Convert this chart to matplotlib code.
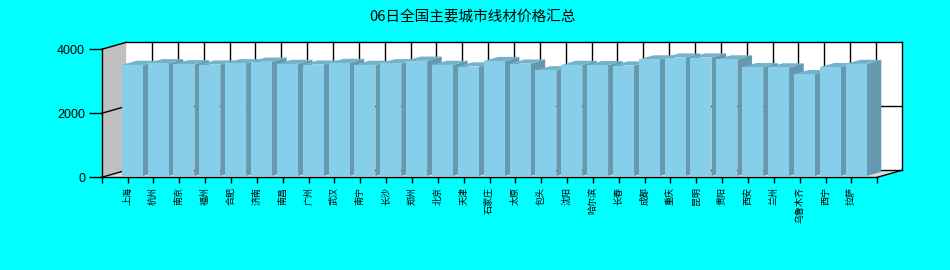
import matplotlib
matplotlib.use("Agg")
import matplotlib.pyplot as plt
from matplotlib.patches import Polygon

plt.rcParams['font.family'] = ['Liberation Sans', 'Noto Sans CJK SC', 'DejaVu Sans']

title = "06日全国主要城市线材价格汇总"
cities = ["上海", "杭州", "南京", "福州", "合肥", "济南", "南昌", "广州", "武汉", "南宁",
          "长沙", "郑州", "北京", "天津", "石家庄", "太原", "包头", "沈阳", "哈尔滨", "长春",
          "成都", "重庆", "昆明", "贵阳", "西安", "兰州", "乌鲁木齐", "西宁", "拉萨"]
prices = [3470, 3520, 3490, 3480, 3520, 3570, 3500, 3480, 3530, 3470,
          3520, 3600, 3470, 3420, 3590, 3510, 3300, 3470, 3460, 3450,
          3640, 3700, 3700, 3640, 3400, 3390, 3180, 3400, 3500]
yticks = [0, 2000, 4000]

BG = "#00FFFF"
FRONT = "#87CEEB"
SIDE = "#6699B0"
TOP = "#74B2CC"

fig = plt.figure(figsize=(9.5, 2.7), dpi=100, facecolor=BG)
ax = fig.add_axes([101.7 / 950, (270 - 177.3) / 270, 775.6 / 950, 128 / 270])
ax.set_facecolor("none")
n = len(cities)
xmax = n + 1
ymax = 4000
ax.set_xlim(0, xmax)
ax.set_ylim(0, ymax)

# pixel scales
px_x = 775.6 / xmax
px_y = 128 / ymax
# wall depth offsets in data units
DX = 24.5 / px_x
DY = 7.0 / px_y
# bars
BW = 21.0 / px_x
F0 = 0.19   # front face depth fraction
BD = 0.60   # bar depth fraction

z = 0
# floor
ax.add_patch(Polygon([(0, 0), (xmax, 0), (xmax + DX, DY), (DX, DY)], closed=True,
                     facecolor="#DCDCDC", edgecolor="none", clip_on=False, zorder=0.5))
# back wall
ax.add_patch(Polygon([(DX, DY), (xmax + DX, DY), (xmax + DX, ymax + DY), (DX, ymax + DY)],
                     closed=True, facecolor="white", edgecolor="none", clip_on=False, zorder=0.6))
# side wall
ax.add_patch(Polygon([(0, 0), (0, ymax), (DX, ymax + DY), (DX, DY)], closed=True,
                     facecolor="#C0C0C0", edgecolor="none", clip_on=False, zorder=0.7))
# grid lines on back wall
for k in range(1, xmax):
    ax.plot([k + DX, k + DX], [DY, ymax + DY], color="black", lw=1, clip_on=False, zorder=0.8)
for t in yticks:
    ax.plot([DX, xmax + DX], [t + DY, t + DY], color="black", lw=1, clip_on=False, zorder=0.8)
    ax.plot([0, DX], [t, t + DY], color="black", lw=1, clip_on=False, zorder=0.8)
ax.plot([xmax + DX, xmax + DX], [DY, ymax + DY], color="black", lw=1, clip_on=False, zorder=0.8)
ax.plot([xmax, xmax + DX], [0, DY], color="black", lw=1, clip_on=False, zorder=0.8)

# bars
fx, fy = F0 * DX, F0 * DY
bx, by = BD * DX, BD * DY
for i, v in enumerate(prices):
    c = i + 1
    x0 = c - BW / 2 + fx
    x1 = c + BW / 2 + fx
    y0 = fy
    y1 = v + fy
    zo = 2 + i * 0.01
    ax.add_patch(Polygon([(x1, y0), (x1 + bx, y0 + by), (x1 + bx, y1 + by), (x1, y1)],
                         closed=True, facecolor=SIDE, edgecolor="none", clip_on=False, zorder=zo))
    ax.add_patch(Polygon([(x0, y1), (x1, y1), (x1 + bx, y1 + by), (x0 + bx, y1 + by)],
                         closed=True, facecolor=TOP, edgecolor="none", clip_on=False, zorder=zo))
    ax.add_patch(Polygon([(x0, y0), (x1, y0), (x1, y1), (x0, y1)],
                         closed=True, facecolor=FRONT, edgecolor="none", clip_on=False, zorder=zo + 0.001))

# axes
for s in ["top", "right"]:
    ax.spines[s].set_visible(False)
for s in ["left", "bottom"]:
    ax.spines[s].set_color("black")
    ax.spines[s].set_linewidth(1)
    ax.spines[s].set_zorder(5)

ax.set_yticks(yticks)
ax.set_yticklabels([str(t) for t in yticks])
ax.tick_params(axis="y", length=9.5, width=1, pad=2.5, labelsize=9, colors="black")

ax.set_xticks(range(xmax + 1))
ax.set_xticklabels([""] + cities + [""], rotation=90, fontsize=6.5,
                   family=["Noto Sans CJK SC", "DejaVu Sans"], va="top", ha="center")
ax.tick_params(axis="x", length=4, width=1, pad=3, colors="black")

fig.text(473 / 950, 1 - 17.3 / 270, title, ha="center", va="center", fontsize=10.5,
         family=["Noto Sans CJK SC", "DejaVu Sans"], color="black")

fig.savefig("out.png", dpi=100, facecolor=BG)
